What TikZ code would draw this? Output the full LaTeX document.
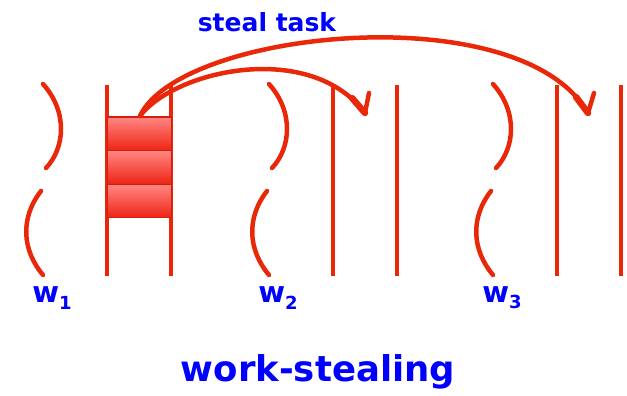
\documentclass[tikz,border=0pt]{standalone}
\usepackage{fontspec}
\setmainfont{DejaVu Sans}
\begin{document}
\begin{tikzpicture}[x=1pt,y=-1pt,
  redline/.style={draw=strokered,line width=4.5pt,line cap=round},
  rail/.style={redline,line cap=butt},
  barb/.style={redline,line width=6.5pt},
  taskbox/.style={draw=boxedge,line width=1.2pt,minimum width=64pt,minimum height=33.6pt,
    inner sep=0pt,top color=boxtop,bottom color=boxbot},
  wlabel/.style={text=labelblue,font=\bfseries\fontsize{29}{29}\selectfont,inner sep=0pt},
  bigtext/.style={text=labelblue,font=\bfseries\fontsize{35.5}{38}\selectfont,inner sep=0pt},
  smalltext/.style={text=labelblue,font=\bfseries\fontsize{25}{27}\selectfont,inner sep=0pt}]
\definecolor{strokered}{RGB}{232,40,8}
\definecolor{boxedge}{RGB}{210,30,10}
\definecolor{boxtop}{RGB}{255,135,130}
\definecolor{boxbot}{RGB}{238,35,20}
\definecolor{labelblue}{RGB}{0,0,255}
\useasboundingbox (0,0) rectangle (627,396);
% workers
\foreach \dx/\n in {0/1,226/2,450/3}{
  \begin{scope}[xshift=\dx pt]
    \draw[redline] (43,84) .. controls (68,112) and (65,148) .. (46,168);
    \draw[redline] (41,191) .. controls (20,218) and (22,250) .. (43,275);
    \draw[rail] (107,85) -- (107,276);
    \draw[rail] (171,85) -- (171,276);
    \node[wlabel] (w\n) at (52,298) {w\raisebox{-0.4ex}{\fontsize{18}{18}\selectfont\n}};
  \end{scope}
}
% deque tasks of w1
\node[taskbox] (t1) at (139.5,133.8) {};
\node[taskbox] (t2) at (139.5,167.4) {};
\node[taskbox] (t3) at (139.5,201) {};
\coordinate (src) at (140,116);
\coordinate (tipA) at (365,113);
\coordinate (tipB) at (588,113);
% steal arcs
\draw[redline] (src) .. controls (175,70) and (310,40) .. (tipA);
\draw[barb] (tipA) -- ++(-13,-15);
\draw[redline] (tipA) -- ++(4,-20);
\draw[redline] (src) .. controls (180,30) and (520,-5) .. (tipB);
\draw[barb] (tipB) -- ++(-12,-16);
\draw[redline] (tipB) -- ++(6,-20);
\node[smalltext] (steal) at (267,22) {steal task};
\node[bigtext] (title) at (318,372) {work-stealing};
\end{tikzpicture}
\end{document}
